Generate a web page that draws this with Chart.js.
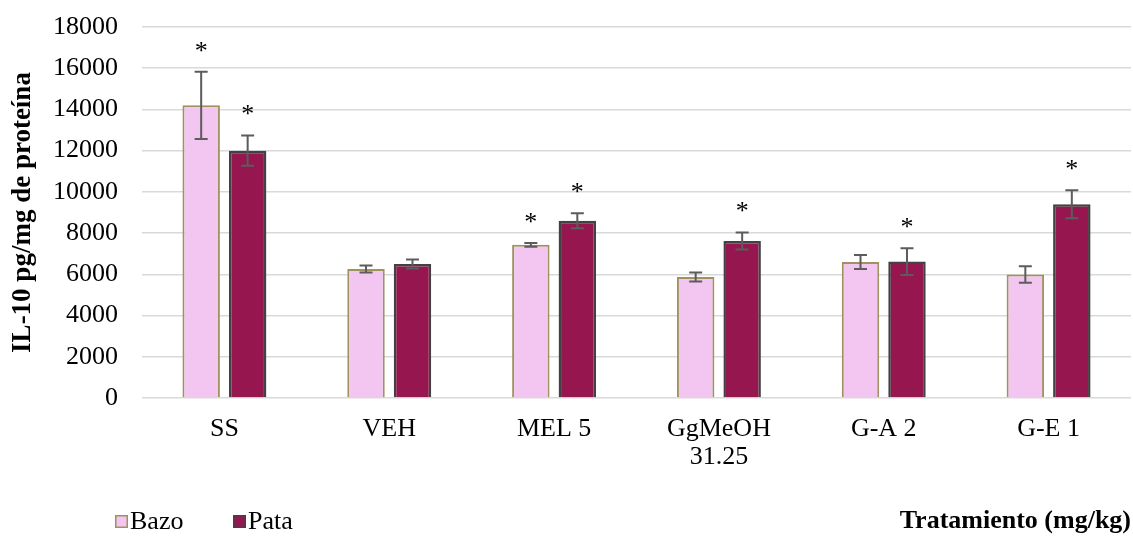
<!DOCTYPE html>
<html>
<head>
<meta charset="utf-8">
<script src="https://cdn.jsdelivr.net/npm/chart.js@4/dist/chart.umd.min.js"></script>
<style>
  html, body { margin: 0; padding: 0; background: #ffffff; }
  #wrap { width: 1133px; height: 539px; position: relative; }
</style>
</head>
<body>
<div id="wrap"><canvas id="c" width="1133" height="539"></canvas></div>
<script>
const categories = ['SS', 'VEH', 'MEL 5', ['GgMeOH', '31.25'], 'G-A 2', 'G-E 1'];
const bazoValues = [14200, 6260, 7430, 5870, 6600, 5990];
const bazoErrors = [1630, 170, 90, 220, 340, 400];
const bazoSignificant = [true, false, true, false, false, false];
const pataValues = [12000, 6500, 8600, 7620, 6620, 9400];
const pataErrors = [730, 220, 360, 410, 650, 680];
const pataSignificant = [true, false, true, true, true, true];
const yTicks = [0, 2000, 4000, 6000, 8000, 10000, 12000, 14000, 16000, 18000];

const FONT = "'Liberation Serif', 'Times New Roman', serif";
const BAZO_FILL = '#F2C6F0', BAZO_BORDER = '#A0925E';
const PATA_FILL = '#96174F', PATA_BORDER = '#424242';

const errorBarPlugin = {
  id: 'errorBars',
  afterDatasetsDraw(chart) {
    const ctx = chart.ctx;
    const y = chart.scales.y;
    chart.data.datasets.forEach((ds, di) => {
      const meta = chart.getDatasetMeta(di);
      meta.data.forEach((bar, i) => {
        const v = ds.data[i], e = ds.errors[i];
        const yTop = y.getPixelForValue(v + e);
        const yBot = y.getPixelForValue(v - e);
        ctx.save();
        ctx.strokeStyle = '#5c5c5c';
        ctx.lineWidth = 2;
        ctx.beginPath();
        ctx.moveTo(bar.x, yTop); ctx.lineTo(bar.x, yBot);
        ctx.moveTo(bar.x - 6.5, yTop); ctx.lineTo(bar.x + 6.5, yTop);
        ctx.moveTo(bar.x - 6.5, yBot); ctx.lineTo(bar.x + 6.5, yBot);
        ctx.stroke();
        if (ds.significant[i]) {
          ctx.fillStyle = '#000000';
          ctx.font = '26px ' + FONT;
          ctx.textAlign = 'center';
          ctx.textBaseline = 'middle';
          ctx.fillText('*', bar.x, yTop - 20);
        }
        ctx.restore();
      });
    });
  }
};

const legendPlugin = {
  id: 'customLegend',
  afterDraw(chart) {
    const ctx = chart.ctx;
    const items = [
      { text: 'Bazo', fill: BAZO_FILL, border: BAZO_BORDER, x: 115 },
      { text: 'Pata', fill: PATA_FILL, border: PATA_BORDER, x: 233 }
    ];
    ctx.save();
    ctx.font = '26px ' + FONT;
    ctx.textBaseline = 'middle';
    ctx.textAlign = 'left';
    items.forEach(it => {
      ctx.fillStyle = it.fill;
      ctx.fillRect(it.x, 515, 13, 13);
      ctx.strokeStyle = it.border;
      ctx.lineWidth = 1.5;
      ctx.strokeRect(it.x + 0.75, 515.75, 11.5, 11.5);
      ctx.fillStyle = '#000000';
      ctx.fillText(it.text, it.x + 15, 522);
    });
    ctx.restore();
  }
};

const bgPlugin = {
  id: 'bg',
  beforeDraw(chart) {
    const ctx = chart.ctx;
    ctx.save();
    ctx.fillStyle = '#ffffff';
    ctx.fillRect(0, 0, chart.width, chart.height);
    ctx.restore();
  }
};

new Chart(document.getElementById('c'), {
  type: 'bar',
  data: {
    labels: categories,
    datasets: [
      {
        label: 'Bazo', data: bazoValues, errors: bazoErrors, significant: bazoSignificant,
        backgroundColor: BAZO_FILL, borderColor: BAZO_BORDER, borderWidth: 2
      },
      {
        label: 'Pata', data: pataValues, errors: pataErrors, significant: pataSignificant,
        backgroundColor: PATA_FILL, borderColor: PATA_BORDER, borderWidth: 2.5
      }
    ]
  },
  options: {
    responsive: false,
    animation: false,
    devicePixelRatio: 1,
    categoryPercentage: 0.564,
    barPercentage: 0.806,
    layout: { padding: { top: 27, right: 2, left: 0, bottom: 0 } },
    plugins: {
      legend: { display: false },
      tooltip: { enabled: false }
    },
    scales: {
      x: {
        grid: { display: false, drawTicks: false },
        border: { display: false },
        ticks: { color: '#000000', font: { family: FONT, size: 26, lineHeight: 1.08 }, padding: 17, maxRotation: 0, autoSkip: false },
        title: {
          display: true, text: 'Tratamiento (mg/kg)', align: 'end', color: '#000000',
          font: { family: FONT, size: 26, weight: 'bold', lineHeight: 1.2 },
          padding: { top: 0, bottom: 2 }
        },
        afterFit(scale) { scale.height = 141; }
      },
      y: {
        min: 0, max: 18000,
        afterBuildTicks(scale) { scale.ticks = yTicks.map(v => ({ value: v })); },
        grid: { color: '#D9D9D9', lineWidth: 1.5, drawTicks: true, tickLength: 24, tickColor: 'rgba(0,0,0,0)' },
        border: { display: false },
        ticks: { color: '#000000', font: { family: FONT, size: 26 }, padding: 0, callback: v => String(v) },
        title: {
          display: true, text: 'IL-10 pg/mg de proteína', color: '#000000',
          font: { family: FONT, size: 27, weight: 'bold', lineHeight: 1.2 },
          padding: { top: 7, bottom: 0 }
        },
        afterFit(scale) { scale.width = 142; }
      }
    }
  },
  plugins: [bgPlugin, errorBarPlugin, legendPlugin]
});
</script>
</body>
</html>
